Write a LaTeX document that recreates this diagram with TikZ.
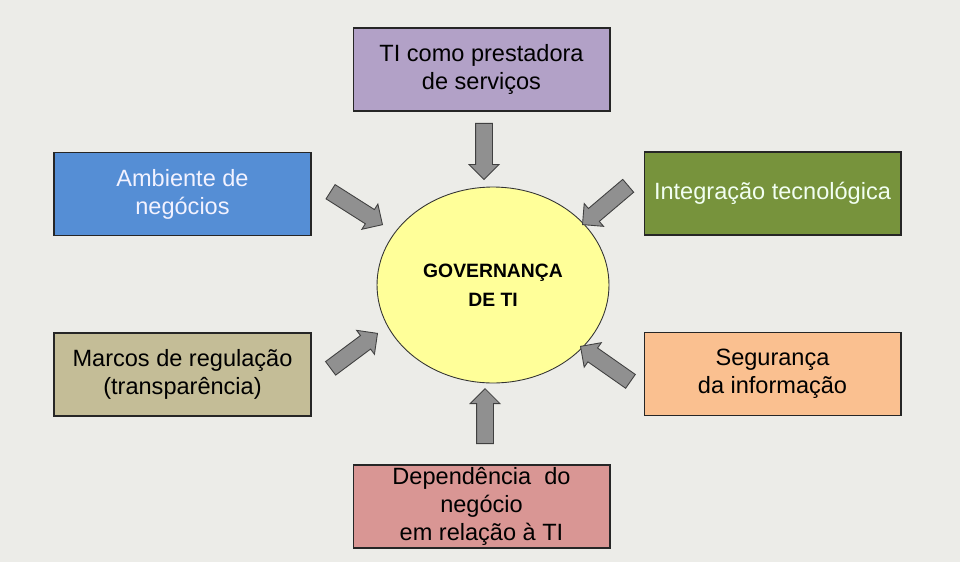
\documentclass[tikz,border=0pt]{standalone}
\usepackage{fontspec}
\setmainfont{Liberation Sans}
\usetikzlibrary{shapes.geometric, shapes.arrows}

\definecolor{fundo}{HTML}{ECECE8}
\definecolor{roxo}{HTML}{B2A1C7}
\definecolor{azul}{HTML}{558ED5}
\definecolor{verde}{HTML}{77933C}
\definecolor{bege}{HTML}{C4BD97}
\definecolor{laranja}{HTML}{FAC090}
\definecolor{rosa}{HTML}{D99694}
\definecolor{amarelo}{HTML}{FFFF99}
\definecolor{cinza}{HTML}{909090}

\tikzset{
  caixa/.style={draw=black!85, line width=0.6pt, rectangle, minimum width=5.14cm,
    minimum height=1.66cm, align=center, inner sep=0pt,
    font=\fontsize{13.4}{16}\selectfont},
  flecha/.style={single arrow, draw=black!75, fill=cinza, line width=0.5pt,
    inner xsep=0pt, inner ysep=0.16cm, minimum width=0.58cm,
    single arrow head extend=0.13cm, anchor=tip}
}

\begin{document}
\begin{tikzpicture}[x=0.02cm, y=-0.02cm]
  % ==================== fundo ====================
  \fill[fundo] (0,0) rectangle (960,562);
  \useasboundingbox (0,0) rectangle (960,562);

  % ==================== centro ====================
  \node[ellipse, draw=black!80, fill=amarelo, line width=0.5pt,
    minimum width=4.64cm, minimum height=3.92cm, align=center,
    font=\fontsize{11}{16.5}\selectfont\bfseries] (gov) at (493,285) {GOVERNANÇA\\DE TI};

  % ==================== caixas ====================
  \node[caixa, fill=roxo] (servicos) at (481.5,69.5) {TI como prestadora\\de serviços};
  \node[caixa, fill=azul, text=white!95!blue] (ambiente) at (182.5,194) {Ambiente de\\negócios};
  \node[caixa, fill=verde, text=white!95!green] (integracao) at (772.5,193.5) {Integração tecnológica};
  \node[caixa, fill=bege] (marcos) at (182.5,374.5) {Marcos de regulação\\(transparência)};
  \node[caixa, fill=laranja] (seguranca) at (772.5,374) {Segurança\\da informação};
  \node[caixa, fill=rosa] (dependencia) at (481.5,506.5)
    {Dependência\ \ do\\negócio\\em relação à TI};

  % ==================== setas ====================
  \node[flecha, minimum height=1.12cm, rotate=-90] (fServicos) at (484,180) {};
  \node[flecha, minimum height=1.1cm, rotate=90] (fDependencia) at (485,388) {};
  \node[flecha, minimum height=1.23cm, rotate=-32.4] (fAmbiente) at (383,225) {};
  \node[flecha, minimum height=1.2cm, rotate=-139.7] (fIntegracao) at (582,225) {};
  \node[flecha, minimum height=1.17cm, rotate=36.7] (fMarcos) at (378,333) {};
  \node[flecha, minimum height=1.22cm, rotate=145] (fSeguranca) at (580,346) {};
\end{tikzpicture}
\end{document}
